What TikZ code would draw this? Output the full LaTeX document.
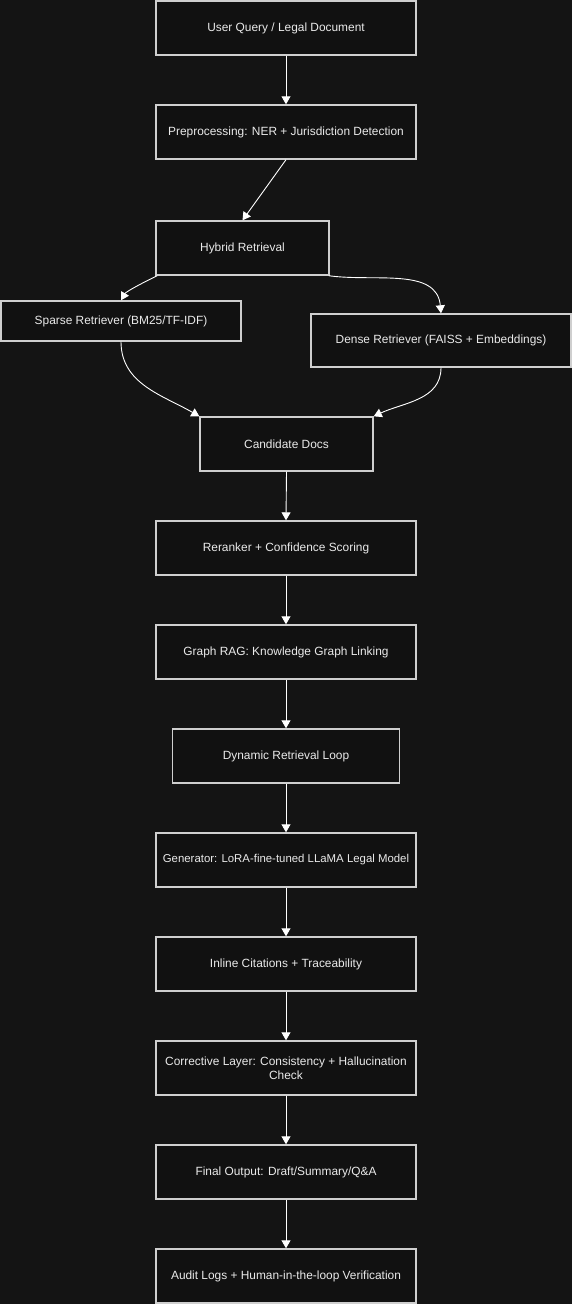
\documentclass[tikz,border=0pt]{standalone}
\usepackage{fontspec}
\setmainfont{Liberation Sans}
\usetikzlibrary{positioning, arrows.meta}
\definecolor{bgdark}{HTML}{141414}
\definecolor{boxfill}{HTML}{111111}
\definecolor{boxline}{HTML}{CFCFCF}
\definecolor{labeltext}{HTML}{EAEAEA}

\begin{document}
\begin{tikzpicture}[x=1pt,y=1pt,font=\fontsize{11.9}{14}\selectfont,
    box/.style={draw=boxline, line width=1.4pt, fill=boxfill, text=labeltext,
                minimum width=260, minimum height=54, inner sep=0pt, align=center},
    link/.style={white, line width=0.9pt, -{Triangle[width=9pt,length=8pt]}}]
    \fill[bgdark] (0,0) rectangle (572,-1304);
    \useasboundingbox (0,0) rectangle (572,-1304);
    % top of the pipeline
    \node[box] (user) at (286,-28) {User Query / Legal Document};
    \node[box] (prep) at (286,-132) {Preprocessing: NER + Jurisdiction Detection};
    \node[box, minimum width=173] (hybrid) at (242.5,-248) {Hybrid Retrieval};
    \node[box, minimum width=240, minimum height=40] (sparse) at (121,-321) {Sparse Retriever (BM25/TF-IDF)};
    \node[box, minimum height=53] (dense) at (441,-340.5) {Dense Retriever (FAISS + Embeddings)};
    \node[box, minimum width=173] (cand) at (286.5,-444) {Candidate Docs};
    % straight chain below the retrievers
    \foreach \n/\y/\w/\txt in {
        rerank/548/260/{Reranker + Confidence Scoring},
        graph/652/260/{Graph RAG: Knowledge Graph Linking},
        loop/756/227/{Dynamic Retrieval Loop},
        gen/860/260/{{\fontsize{11.4}{14}\selectfont Generator: LoRA-fine-tuned LLaMA Legal Model}},
        cite/964/260/{Inline Citations + Traceability},
        correct/1068/260/{Corrective Layer: Consistency + Hallucination\\Check},
        final/1172/260/{Final Output: Draft/Summary/Q\&A},
        audit/1276/260/{Audit Logs + Human-in-the-loop Verification}}{
        \node[box, minimum width=\w] (\n) at (286,-\y) {\txt};
    }
    \foreach \a/\b in {user/prep, cand/rerank, rerank/graph, graph/loop, loop/gen,
                       gen/cite, cite/correct, correct/final, final/audit}{
        \draw[link] (\a.south) -- (\b.north);
    }
    \draw[link] (prep.south) -- (hybrid.north);
    \draw[link] ([xshift=2]hybrid.south west) to[out=205, in=60, looseness=0.6] (sparse.north);
    \draw[link] ([xshift=-1]hybrid.south east) to[out=-8, in=95] (dense.north);
    \draw[link] (sparse.south) to[out=-90, in=150] (cand.north west);
    \draw[link] (dense.south) to[out=-90, in=25] (cand.north east);
\end{tikzpicture}
\end{document}
